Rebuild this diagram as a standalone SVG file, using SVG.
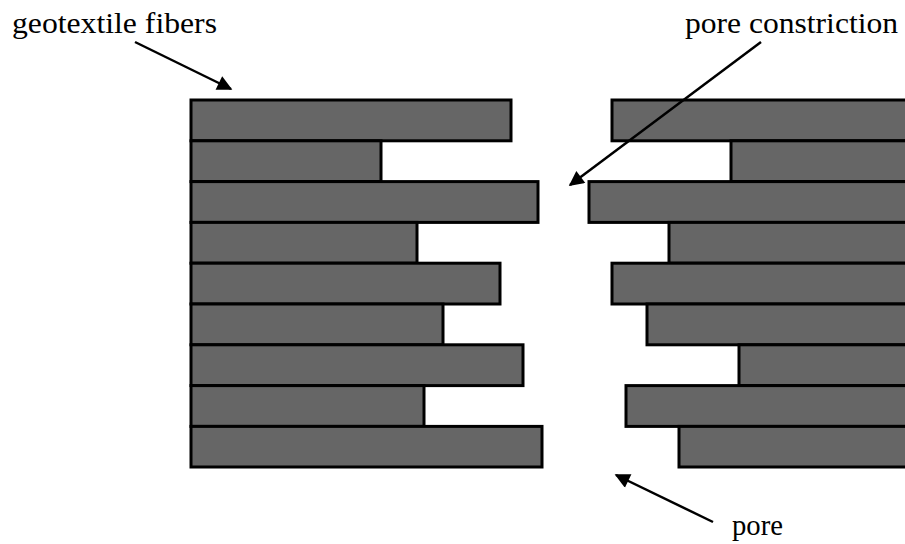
<svg xmlns="http://www.w3.org/2000/svg" width="905" height="544" viewBox="0 0 905 544">
  <style>
    .fiber { fill: #666666; stroke: #000000; stroke-width: 3; }
    .label { font-family: "Liberation Serif", "Times New Roman", serif; font-size: 29px; fill: #000000; }
    .lead { stroke: #000000; stroke-width: 2.5; fill: none; marker-end: url(#head); }
  </style>
  <defs>
    <marker id="head" viewBox="0 0 10 10" refX="9" refY="5" markerWidth="7" markerHeight="6" markerUnits="strokeWidth" orient="auto">
      <path d="M0,0 L10,5 L0,10 z" fill="#000000"/>
    </marker>
  </defs>
  <rect width="905" height="544" fill="#ffffff"/>

  <!-- left fiber stack -->
  <g id="left-fibers">
    <rect class="fiber" x="191" y="100" width="320" height="40.8"/>
    <rect class="fiber" x="191" y="140.8" width="190" height="40.8"/>
    <rect class="fiber" x="191" y="181.6" width="347" height="40.8"/>
    <rect class="fiber" x="191" y="222.4" width="226" height="40.8"/>
    <rect class="fiber" x="191" y="263.2" width="309" height="40.8"/>
    <rect class="fiber" x="191" y="304" width="252" height="40.8"/>
    <rect class="fiber" x="191" y="344.8" width="332" height="40.8"/>
    <rect class="fiber" x="191" y="385.6" width="233" height="40.8"/>
    <rect class="fiber" x="191" y="426.4" width="351" height="40.6"/>
  </g>

  <!-- right fiber stack (runs off the right edge) -->
  <g id="right-fibers">
    <rect class="fiber" x="612" y="100" width="310" height="40.8"/>
    <rect class="fiber" x="731" y="140.8" width="200" height="40.8"/>
    <rect class="fiber" x="589" y="181.6" width="330" height="40.8"/>
    <rect class="fiber" x="669" y="222.4" width="260" height="40.8"/>
    <rect class="fiber" x="612" y="263.2" width="310" height="40.8"/>
    <rect class="fiber" x="647" y="304" width="280" height="40.8"/>
    <rect class="fiber" x="739" y="344.8" width="200" height="40.8"/>
    <rect class="fiber" x="626" y="385.6" width="300" height="40.8"/>
    <rect class="fiber" x="679" y="426.4" width="250" height="40.6"/>
  </g>

  <g id="label-fibers">
    <text class="label" x="12" y="33" textLength="205" lengthAdjust="spacingAndGlyphs">geotextile fibers</text>
  </g>
  <g id="label-constriction">
    <text class="label" x="685" y="33" textLength="213" lengthAdjust="spacingAndGlyphs">pore constriction</text>
  </g>
  <g id="label-pore">
    <text class="label" x="732" y="535" textLength="51" lengthAdjust="spacingAndGlyphs">pore</text>
  </g>

  <g id="connectors">
    <line class="lead" x1="135" y1="42" x2="231" y2="89"/>
    <line class="lead" x1="761" y1="42" x2="570" y2="185"/>
    <line class="lead" x1="713" y1="522" x2="616" y2="475"/>
  </g>
</svg>
